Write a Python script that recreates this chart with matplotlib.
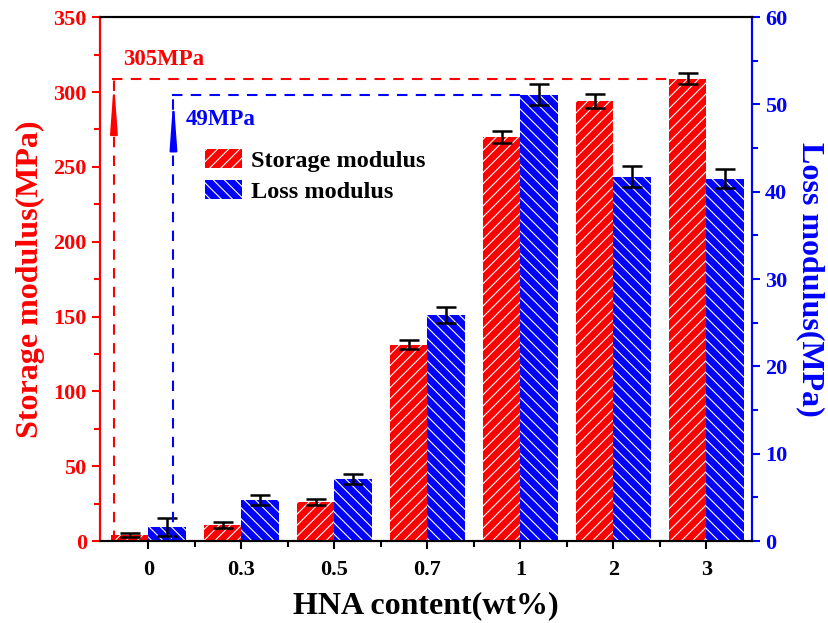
import matplotlib
matplotlib.use("Agg")
import matplotlib.pyplot as plt
from matplotlib.ticker import MultipleLocator, FixedLocator
import numpy as np

# data
contents = ["0", "0.3", "0.5", "0.7", "1", "2", "3"]
storage = [4, 11, 26, 131, 270, 294, 309]
storage_err = [1.5, 2, 2, 3, 3.8, 5, 3.8]
loss = [1.6, 4.7, 7.1, 25.9, 51.1, 41.7, 41.5]
loss_err = [1.0, 0.6, 0.6, 0.9, 1.2, 1.2, 1.1]

plt.rcParams['font.family'] = 'Liberation Serif'
plt.rcParams['font.weight'] = 'bold'
plt.rcParams['hatch.linewidth'] = 0.8

RED = '#ff0000'
BLUE = '#0000ff'
ARROW = '-|>,head_length=1.9,head_width=0.14'

fig = plt.figure(figsize=(8.29, 6.23), dpi=100)
ax = fig.add_axes([0.1206, 0.1316, 0.7865, 0.8408])
ax2 = ax.twinx()

x = np.arange(len(contents))
w = 0.4
b1 = ax.bar(x - w / 2, storage, w, color=RED, edgecolor='white', linewidth=0,
            hatch='///', label='Storage modulus')
ax.errorbar(x - w / 2, storage, yerr=storage_err, fmt='none', ecolor='black',
            elinewidth=1.8, capsize=7, capthick=1.8)
b2 = ax2.bar(x + w / 2, loss, w, color=BLUE, edgecolor='white', linewidth=0,
             hatch='\\\\\\', label='Loss modulus')
ax2.errorbar(x + w / 2, loss, yerr=loss_err, fmt='none', ecolor='black',
             elinewidth=1.8, capsize=7, capthick=1.8)

ax.set_xlim(-0.52, 6.49)
ax.set_ylim(0, 350)
ax2.set_ylim(0, 60)

# dashed guide lines with arrows
sx = -0.37
ax.plot([-0.39, x[-1] - w], [storage[-1], storage[-1]], '--', color=RED, lw=1.5, dashes=(5, 4))
ax.plot([sx, sx], [0, storage[-1]], '--', color=RED, lw=1.5, dashes=(5, 4))
ax.annotate('', xy=(sx, storage[-1]), xytext=(sx, storage[-1] - 30),
            arrowprops=dict(arrowstyle=ARROW, color=RED, lw=1.5, mutation_scale=15))
ax.text(-0.27, 318, '305MPa', color=RED, fontsize=16.5, fontweight='bold')

lx = 0.27
ax2.plot([0.25, x[4] - 0.0], [loss[4], loss[4]], '--', color=BLUE, lw=1.5, dashes=(5, 4))
ax2.plot([lx, lx], [0, loss[4]], '--', color=BLUE, lw=1.5, dashes=(5, 4))
ax2.annotate('', xy=(lx, loss[4]), xytext=(lx, loss[4] - 5),
             arrowprops=dict(arrowstyle=ARROW, color=BLUE, lw=1.5, mutation_scale=15))
ax2.text(0.4, 47.6, '49MPa', color=BLUE, fontsize=16.5, fontweight='bold')

# axes styling
ax.set_xticks(x)
ax.set_xticklabels(contents)
ax.xaxis.set_minor_locator(FixedLocator(x[:-1] + 0.5))
ax.yaxis.set_major_locator(MultipleLocator(50))
ax.yaxis.set_minor_locator(MultipleLocator(25))
ax2.yaxis.set_major_locator(MultipleLocator(10))
ax2.yaxis.set_minor_locator(MultipleLocator(5))

ax.tick_params(axis='x', which='major', length=6, width=1.5, labelsize=16, pad=8)
ax.tick_params(axis='x', which='minor', length=4, width=1.5)
ax.tick_params(axis='y', which='major', length=6, width=1.5, colors=RED, labelsize=16)
ax.tick_params(axis='y', which='minor', length=4, width=1.5, colors=RED)
ax2.tick_params(axis='y', which='major', length=6, width=1.5, colors=BLUE, labelsize=16)
ax2.tick_params(axis='y', which='minor', length=4, width=1.5, colors=BLUE)

for a in (ax, ax2):
    a.spines['left'].set_color(RED)
    a.spines['right'].set_color(BLUE)
    for s in a.spines.values():
        s.set_linewidth(1.5)

ax.set_xlabel('HNA content(wt%)', fontsize=23, fontweight='bold', labelpad=8)
ax.set_ylabel('Storage modulus(MPa)', fontsize=23, fontweight='bold', color=RED, labelpad=6)
ax2.set_ylabel('Loss modulus(MPa)', fontsize=23, fontweight='bold', color=BLUE,
               rotation=270, labelpad=27)

ax.legend([b1, b2], ['Storage modulus', 'Loss modulus'], loc='upper left',
          bbox_to_anchor=(0.128, 0.79), frameon=False, fontsize=17.5,
          handlelength=1.5, handleheight=0.8, handletextpad=0.4, labelspacing=0.35)

fig.savefig('out.png', dpi=100)
